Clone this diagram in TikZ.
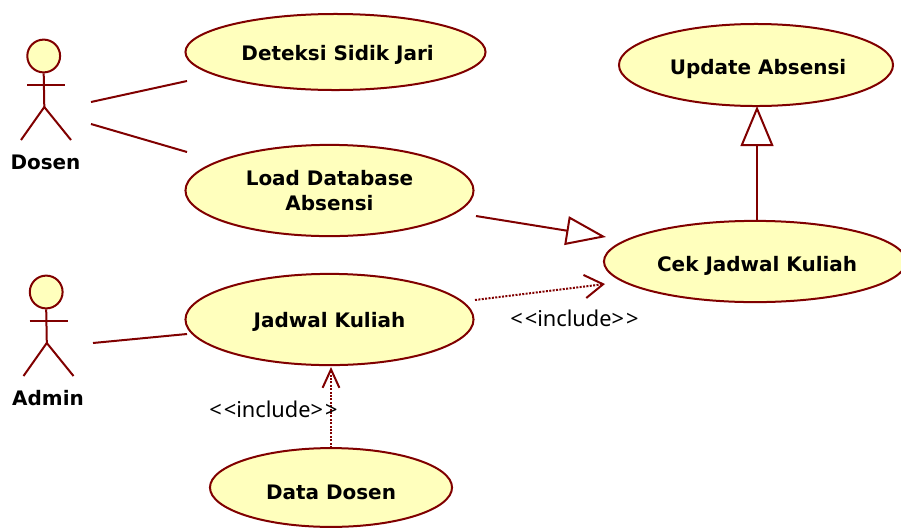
\documentclass[tikz,border=0pt]{standalone}
\usepackage{fontspec}
\setmainfont{Noto Sans}
\newfontfamily\umlbold{DejaVu Sans Bold}
\usepackage{tikz}
\usetikzlibrary{shapes.geometric, arrows.meta}
\definecolor{umlline}{HTML}{800000}
\definecolor{umlfill}{HTML}{FFFFBD}
\newcommand{\caselabel}[2]{\raisebox{-#1}[0pt][0pt]{#2}}
\tikzset{
    usecase/.style={ellipse, draw=umlline, fill=umlfill, line width=0.05cm, inner sep=0pt, align=center, font=\fontsize{14.2}{18}\umlbold\selectfont},
    actorhead/.style={circle, draw=umlline, fill=umlfill, line width=0.05cm, inner sep=0pt, minimum size=0.82cm},
    actorname/.style={font=\fontsize{14.2}{16}\umlbold\selectfont},
    stereo/.style={font=\fontsize{15.5}{16}\selectfont},
    assoc/.style={draw=umlline, line width=0.05cm},
    general/.style={draw=umlline, line width=0.05cm, -{Triangle[open, fill=white, length=1cm, width=#1]}},
    general/.default=0.72cm,
    depend/.style={draw=umlline, line width=0.05cm, dash pattern=on 0.05cm off 0.035cm, -{Straight Barb[length=0.46cm, width=#1]}},
    depend/.default=0.58cm
}

\begin{document}
\begin{tikzpicture}[x=0.025cm, y=-0.025cm]
    \clip (0,0) rectangle (901,527);

    % Use cases
    \node[usecase, minimum width=7.5cm, minimum height=1.9cm] (deteksi) at (335.5,52) {\hspace*{3pt}\caselabel{5.7pt}{Deteksi Sidik Jari}};
    \node[usecase, minimum width=7.2cm, minimum height=2.28cm] (load) at (329.5,190.5) {Load Database\\Absensi};
    \node[usecase, minimum width=7.2cm, minimum height=2.28cm] (jadwal) at (329.5,319.5) {\caselabel{6pt}{Jadwal Kuliah}};
    \node[usecase, minimum width=6.05cm, minimum height=1.97cm] (data) at (331,487.5) {\caselabel{8.2pt}{Data Dosen}};
    \node[usecase, minimum width=6.85cm, minimum height=2.05cm] (update) at (756,65) {\hspace*{3pt}\caselabel{6.4pt}{Update Absensi}};
    \node[usecase, minimum width=7.55cm, minimum height=2.03cm] (cek) at (755,261.5) {\hspace*{3pt}\caselabel{6.8pt}{Cek Jadwal Kuliah}};

    % Actors
    \foreach \actor/\x/\y/\actorlabel in {dosen/0/0/Dosen, admin/2.5/236/Admin} {
        \begin{scope}[shift={(\x,\y)}]
            \node[actorhead] (\actor head) at (43.7,56) {};
            \node[actorname] (\actor name) at (45.5,162) {\actorlabel};
            \coordinate (\actor hip) at (44.3,107);
            \draw[assoc] (\actor head.south) -- (\actor hip);
            \draw[assoc] (27,85) -- (65,85);
            \draw[assoc] (21,140) -- (\actor hip) -- (71,140);
        \end{scope}
    }

    % Free line ends
    \coordinate (dosenA) at (91,102);
    \coordinate (dosenB) at (91,124);
    \coordinate (adminA) at (93,343);
    \coordinate (deteksiEnd) at (187,81);
    \coordinate (loadEnd) at (187,152);
    \coordinate (jadwalEnd) at (187,334);
    \coordinate (loadOut) at (476,216);
    \coordinate (cekIn) at (606,237);
    \coordinate (jadwalOut) at (475,300);
    \coordinate (cekDep) at (605,284);
    \coordinate (updateIn) at (757,106);
    \coordinate (dataTop) at (331,448);
    \coordinate (jadwalIn) at (331,367);

    % Associations
    \draw[assoc] (dosenA) -- (deteksiEnd);
    \draw[assoc] (dosenB) -- (loadEnd);
    \draw[assoc] (adminA) -- (jadwalEnd);

    % Generalizations and includes
    \draw[general] (loadOut) -- (cekIn);
    \draw[general=0.82cm] (cek.north -| updateIn) -- (updateIn);
    \draw[depend] (jadwalOut) -- (cekDep);
    \draw[depend=0.42cm] (dataTop) -- (jadwalIn);

    \node[stereo] (incA) at (574.5,318) {<\kern1.5pt<include>\kern1.5pt>};
    \node[stereo] (incB) at (273.5,409) {<\kern1.5pt<include>\kern1.5pt>};
\end{tikzpicture}
\end{document}
